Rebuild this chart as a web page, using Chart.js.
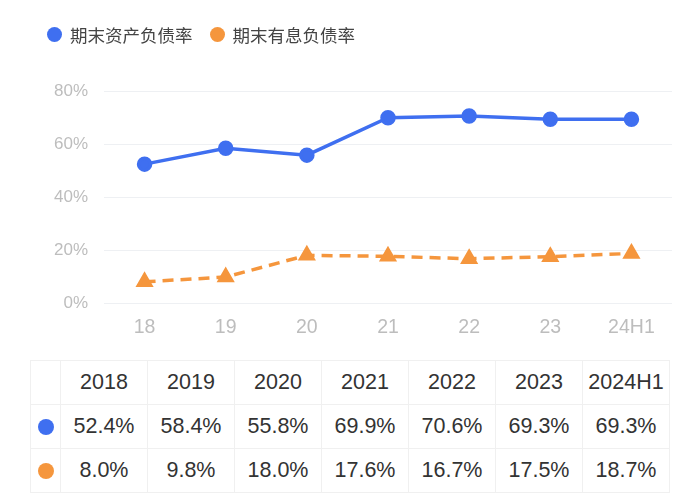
<!DOCTYPE html>
<html><head><meta charset="utf-8">
<script src="https://cdn.jsdelivr.net/npm/chart.js@4/dist/chart.umd.min.js"></script>
<style>
html,body{margin:0;padding:0;background:#fff;width:700px;height:496px;overflow:hidden;font-family:"Liberation Sans","Noto Sans CJK SC",sans-serif;}
#wrap{position:relative;width:700px;height:496px;}
#c{position:absolute;left:0;top:0;}
#legend{position:absolute;left:47px;top:22px;font-family:"Noto Sans CJK SC",sans-serif;font-size:17.5px;color:#444;display:flex;align-items:center;white-space:nowrap;}
#legend .item{display:flex;align-items:center;margin-right:17px;}
#legend .dot{width:15px;height:15px;border-radius:50%;margin-right:8px;}
table{position:absolute;left:30px;top:360px;border-collapse:collapse;font-size:21.5px;color:#333;}
td{border:1px solid #f0f0f0;text-align:center;padding:0;height:43px;width:86px;}
td.m{width:29px;}
td .dot{display:inline-block;width:16px;height:16px;border-radius:50%;vertical-align:middle;}
</style></head>
<body><div id="wrap">
<canvas id="c" width="700" height="350"></canvas>
<div id="legend"></div>
<table id="tbl"></table>
</div>
<script>
const categories = ["18","19","20","21","22","23","24H1"];
const tableYears = ["2018","2019","2020","2021","2022","2023","2024H1"];
const assetLiabilityRatio = [52.4,58.4,55.8,69.9,70.6,69.3,69.3];
const interestDebtRatio = [8.0,9.8,18.0,17.6,16.7,17.5,18.7];
const seriesNames = ["期末资产负债率","期末有息负债率"];
const yTicks = [0,20,40,60,80];
const blue = "#3f6ff0", orange = "#f5963d";

// legend
const lg = document.getElementById('legend');
[[seriesNames[0],blue],[seriesNames[1],orange]].forEach(([n,c])=>{
  const d=document.createElement('div');d.className='item';
  d.innerHTML='<span class="dot" style="background:'+c+'"></span>'+n;lg.appendChild(d);
});
// table
const tbl=document.getElementById('tbl');
function row(marker,vals,fmt){
  const tr=document.createElement('tr');
  const m=document.createElement('td');m.className='m';
  if(marker) m.innerHTML='<span class="dot" style="background:'+marker+'"></span>';
  tr.appendChild(m);
  vals.forEach(v=>{const td=document.createElement('td');td.textContent=fmt(v);tr.appendChild(td);});
  tbl.appendChild(tr);
}
row(null,tableYears,v=>v);
row(blue,assetLiabilityRatio,v=>v.toFixed(1)+'%');
row(orange,interestDebtRatio,v=>v.toFixed(1)+'%');

new Chart(document.getElementById('c'),{
  type:'line',
  data:{labels:categories,datasets:[
    {label:seriesNames[0],data:assetLiabilityRatio,borderColor:blue,backgroundColor:blue,borderWidth:3.5,pointRadius:6,pointHoverRadius:6,pointStyle:'circle',tension:0},
    {label:seriesNames[1],data:interestDebtRatio,borderColor:orange,backgroundColor:orange,borderWidth:3.5,borderDash:[11,7],pointRadius:7,pointStyle:'triangle',tension:0}
  ]},
  options:{
    responsive:false,animation:false,
    layout:{padding:{top:91,right:28,left:0,bottom:0}},
    plugins:{legend:{display:false},tooltip:{enabled:false}},
    scales:{
      x:{offset:true,grid:{display:false,drawTicks:false},border:{display:false},
         ticks:{color:'#bdbdbd',font:{size:19.5,family:'Liberation Sans'},padding:13},
         afterFit(s){s.height=47;}},
      y:{min:0,max:80,afterBuildTicks(s){s.ticks=yTicks.map(v=>({value:v}));},
         grid:{color:'#eef0f3',drawTicks:false,lineWidth:1},border:{display:false},
         ticks:{color:'#bdbdbd',font:{size:17,family:'Liberation Sans'},padding:16,callback:v=>v+'%'},
         afterFit(s){s.width=104;}}
    }
  }
});
</script>
</body></html>
